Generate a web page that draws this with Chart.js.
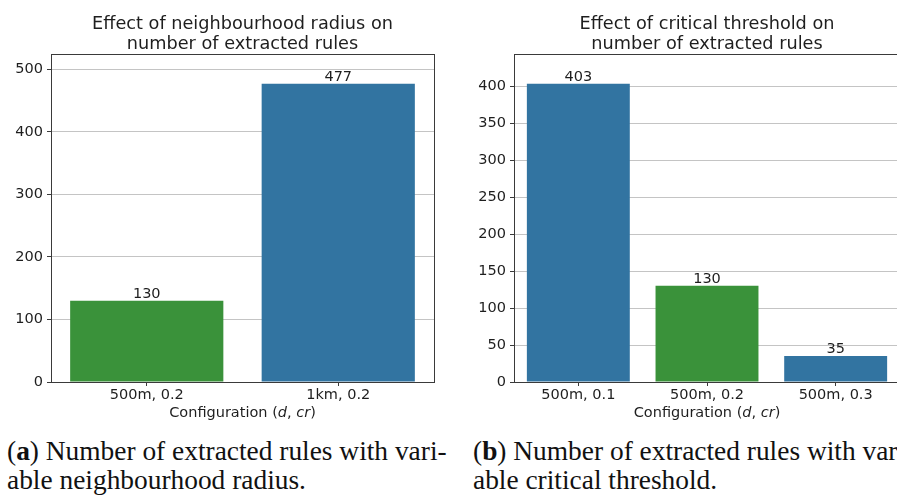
<!DOCTYPE html>
<html>
<head>
<meta charset="utf-8">
<script src="https://cdn.jsdelivr.net/npm/chart.js@4.4.1/dist/chart.umd.min.js"></script>
<style>
  html, body { margin: 0; padding: 0; background: #fff; }
  body { width: 897px; height: 496px; overflow: hidden; position: relative; }
  .panel { position: absolute; top: 0; }
  .caption {
    position: absolute; white-space: nowrap;
    font-family: "Liberation Serif", "DejaVu Serif", serif;
    font-size: 27.4px; line-height: 29px; color: #111;
  }
</style>
</head>
<body>
<div class="panel" style="left:0;width:450px;height:430px"><canvas id="radius" width="450" height="430"></canvas></div>
<div class="panel" style="left:460px;width:456px;height:430px"><canvas id="threshold" width="456" height="430"></canvas></div>
<div class="caption" style="left:7px;top:437px">(<b>a</b>) Number of extracted rules with vari-<br>able neighbourhood radius.</div>
<div class="caption" style="left:473px;top:437px">(<b>b</b>) Number of extracted rules with vari-<br>able critical threshold.</div>
<script>
// Panel (a): neighbourhood radius
const radiusLabels = ['500m, 0.2', '1km, 0.2'];
const radiusRules = [130, 477];
const radiusColors = ['#3a923a', '#3274a1'];
const radiusTitle = ['Effect of neighbourhood radius on', 'number of extracted rules'];

// Panel (b): critical threshold
const thresholdLabels = ['500m, 0.1', '500m, 0.2', '500m, 0.3'];
const thresholdRules = [403, 130, 35];
const thresholdColors = ['#3274a1', '#3a923a', '#3274a1'];
const thresholdTitle = ['Effect of critical threshold on', 'number of extracted rules'];

const SANS = '"DejaVu Sans", sans-serif';
const INK = '#1e1e1e';
const SPINE = '#3a3a3a';
const TICK_SIZE = 14.5;

// Two-line title, value labels, full box frame and the mixed-style x-axis title
const decorations = {
  id: 'decorations',
  afterDatasetsDraw(chart) {
    const ctx = chart.ctx;
    const meta = chart.getDatasetMeta(0);
    const data = chart.data.datasets[0].data;
    ctx.save();
    ctx.font = TICK_SIZE + 'px ' + SANS;
    ctx.fillStyle = INK;
    ctx.textAlign = 'center';
    ctx.textBaseline = 'alphabetic';
    meta.data.forEach((bar, i) => {
      ctx.fillText(String(data[i]), bar.x, bar.y - 3);
    });
    ctx.restore();
  },
  afterDraw(chart, args, opts) {
    const ctx = chart.ctx;
    const a = chart.chartArea;
    const cx = (a.left + a.right) / 2;
    ctx.save();
    // frame
    ctx.strokeStyle = SPINE;
    ctx.lineWidth = 1;
    ctx.strokeRect(Math.round(a.left) + 0.5, Math.round(a.top) + 0.5,
                   Math.round(a.right - a.left), Math.round(a.bottom - a.top));
    // title
    ctx.fillStyle = INK;
    ctx.textAlign = 'center';
    ctx.textBaseline = 'alphabetic';
    ctx.font = '17.7px ' + SANS;
    opts.title.forEach((line, i) => ctx.fillText(line, cx, 29 + i * 20));
    // x-axis title: Configuration (d, cr) with italic symbols
    const parts = [['Configuration (', false], ['d', true], [', ', false], ['cr', true], [')', false]];
    const fontFor = it => (it ? 'italic ' : '') + TICK_SIZE + 'px ' + SANS;
    let total = 0;
    parts.forEach(([t, it]) => { ctx.font = fontFor(it); total += ctx.measureText(t).width; });
    let x = cx - total / 2;
    ctx.textAlign = 'left';
    parts.forEach(([t, it]) => {
      ctx.font = fontFor(it);
      ctx.fillText(t, x, a.bottom + 35);
      x += ctx.measureText(t).width;
    });
    ctx.restore();
  }
};

function makeChart(id, labels, values, colors, title, step, yWidth) {
  return new Chart(document.getElementById(id), {
    type: 'bar',
    data: {
      labels: labels,
      datasets: [{
        data: values,
        backgroundColor: colors,
        borderWidth: 0,
        categoryPercentage: 1.0,
        barPercentage: 0.8
      }]
    },
    plugins: [decorations],
    options: {
      responsive: false,
      animation: false,
      devicePixelRatio: 1,
      layout: { padding: { left: 0, right: 16, top: 54, bottom: 0 } },
      plugins: {
        legend: { display: false },
        tooltip: { enabled: false },
        title: { display: false },
        decorations: { title: title }
      },
      scales: {
        x: {
          z: 1,
          grid: { display: true, drawOnChartArea: false, offset: false, drawTicks: true,
                  tickLength: 4, tickColor: SPINE, tickWidth: 1 },
          border: { display: true, color: SPINE, width: 1 },
          ticks: { color: INK, font: { family: SANS, size: TICK_SIZE }, padding: 1, maxRotation: 0 },
          afterFit(scale) { scale.height = 48; }
        },
        y: {
          z: 1,
          min: 0,
          max: Math.max(...values) * 1.1,
          grid: { color: '#c4c4c4', lineWidth: 1, drawTicks: true, tickLength: 4,
                  tickColor: SPINE, tickWidth: 1 },
          border: { display: true, color: SPINE, width: 1 },
          ticks: { stepSize: step, includeBounds: false, color: INK,
                   font: { family: SANS, size: TICK_SIZE }, padding: 4 },
          afterFit(scale) { scale.width = yWidth; }
        }
      }
    }
  });
}

makeChart('radius', radiusLabels, radiusRules, radiusColors, radiusTitle, 100, 51);
makeChart('threshold', thresholdLabels, thresholdRules, thresholdColors, thresholdTitle, 50, 54);
</script>
</body>
</html>
